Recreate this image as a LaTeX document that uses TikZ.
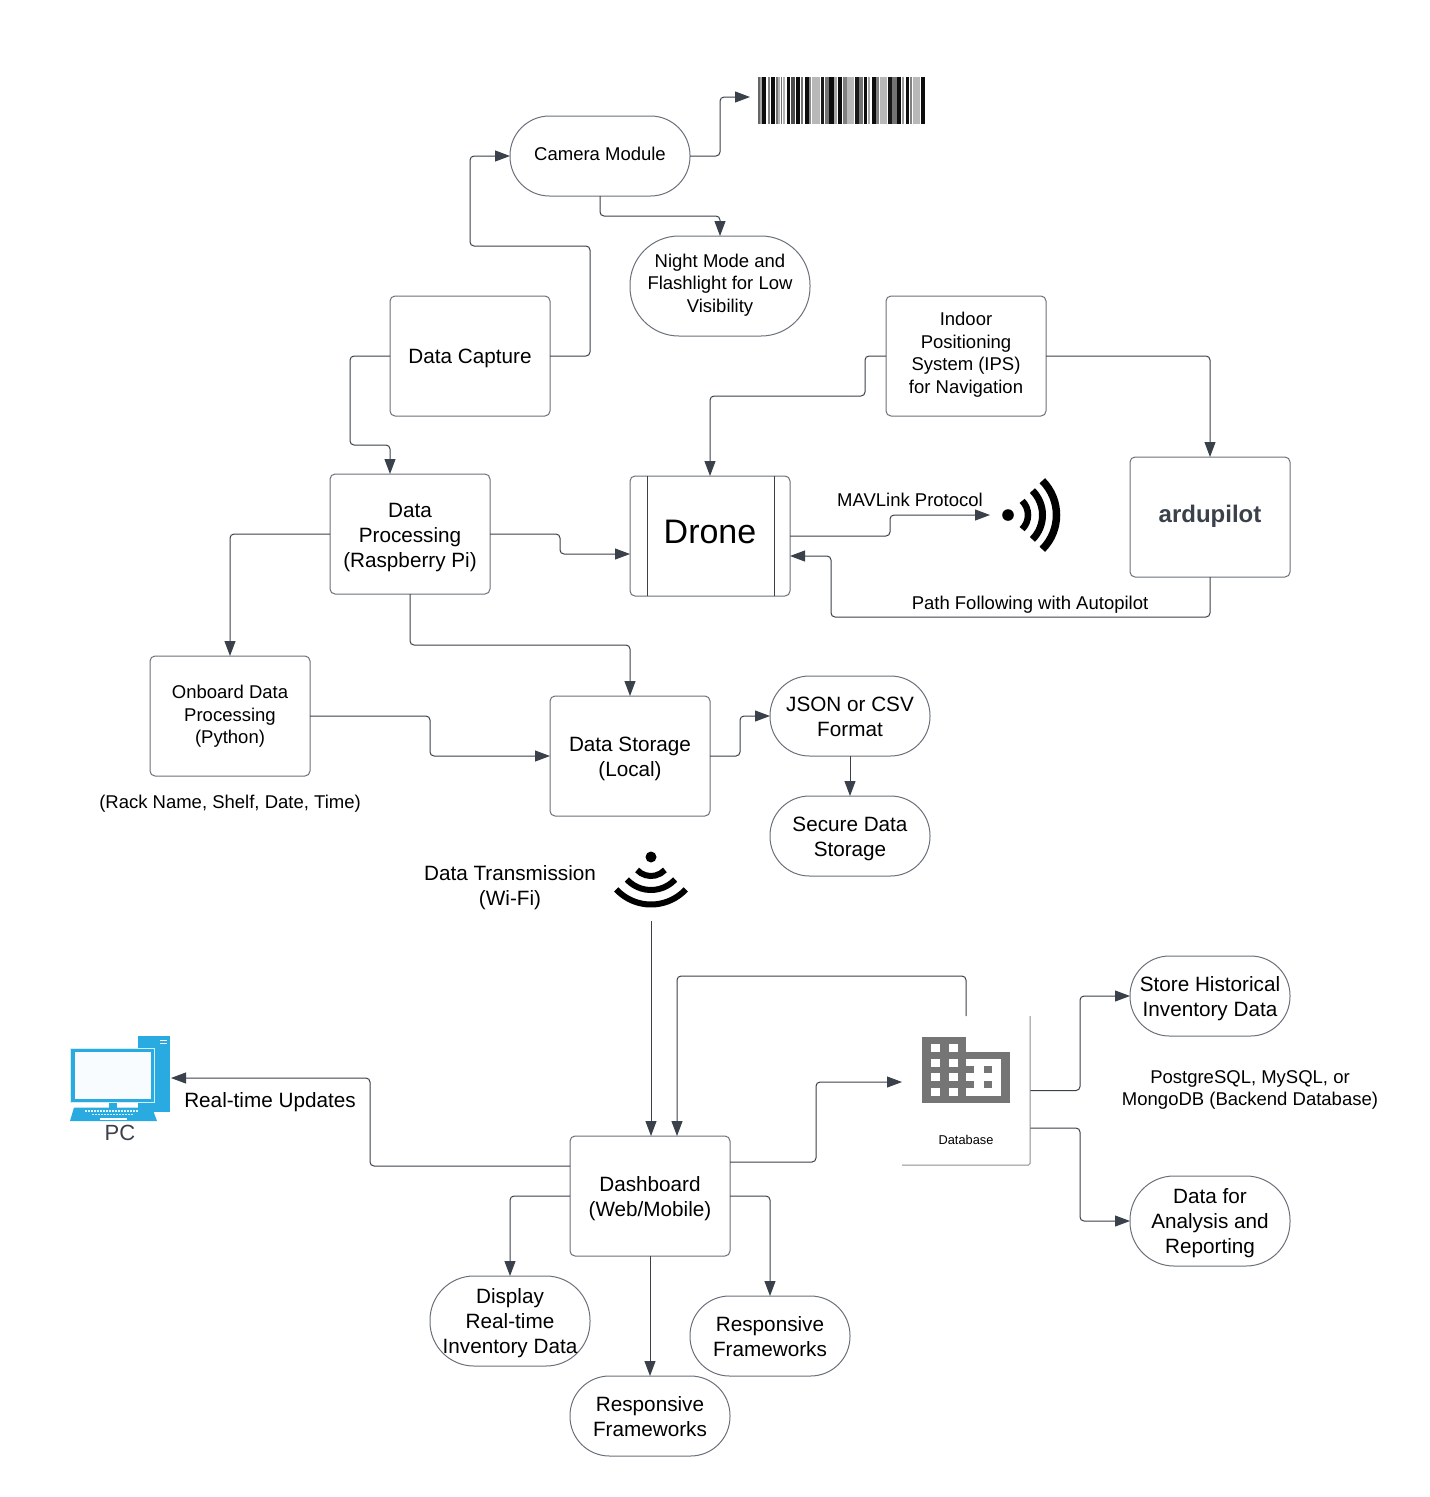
\documentclass[tikz,border=0pt]{standalone}
\usepackage{fontspec}
\setmainfont{Liberation Sans}
\usetikzlibrary{arrows.meta}
\definecolor{boxc}{HTML}{6A707A}
\definecolor{linec}{HTML}{3A414A}
\definecolor{pcblue}{HTML}{29ABE2}
\definecolor{dbgray}{HTML}{757575}
\newcommand{\fsA}{\fontsize{18.5}{22.5}\selectfont}
\newcommand{\fsB}{\fontsize{20.7}{25}\selectfont}
\newsavebox{\shiftbox}
\newcommand{\dn}[2]{\sbox{\shiftbox}{\begin{tabular}{@{}c@{}}#2\end{tabular}}\raisebox{0pt}[\dimexpr\ht\shiftbox+#1pt+#1pt\relax][\dp\shiftbox]{\usebox{\shiftbox}}}
\newcommand{\up}[2]{\sbox{\shiftbox}{\begin{tabular}{@{}c@{}}#2\end{tabular}}\raisebox{0pt}[\ht\shiftbox][\dimexpr\dp\shiftbox+#1pt+#1pt\relax]{\usebox{\shiftbox}}}
\tikzset{
  anynode/.style={inner sep=0pt,outer sep=0pt,align=center,text=black},
  boxA/.style={anynode,draw=boxc,line width=1pt,rounded corners=5pt,minimum width=160pt,minimum height=120pt,font=\fsB},
  boxB/.style={boxA,font=\fsA},
  pill/.style={anynode,draw=boxc,line width=1pt,minimum width=160pt,minimum height=80pt,rounded corners=39.5pt,font=\fsB},
  lab/.style={anynode,font=\fsA},
  labB/.style={anynode,font=\fsB},
  conn/.style={draw=linec,line width=1pt,rounded corners=4pt,-{Triangle[length=15pt,width=11pt,fill=linec]}},
}
\begin{document}
\begin{tikzpicture}[x=1pt,y=-1pt]
\useasboundingbox (0,0) rectangle (1430,1497);
% nodes
\node[pill,font=\fsA,minimum width=180pt] (cam) at (600,156) {\up{0.5}{Camera Module}};
\node[pill,font=\fsA,minimum width=180pt,minimum height=100pt,rounded corners=49pt] (night) at (720,286) {\up{1}{Night Mode and\\Flashlight for Low\\Visibility}};
\node[boxA] (capture) at (470,356) {\dn{2}{Data Capture}};
\node[boxB] (ips) at (966,356) {\up{1}{Indoor\\Positioning\\System (IPS)\\for Navigation}};
\node[boxA] (proc) at (410,534) {\dn{3.5}{Data\\Processing\\(Raspberry Pi)}};
\node[boxA,font=\fontsize{34}{40}\selectfont] (drone) at (710,536) {\up{1}{Drone}};
\node[boxA,font=\fontsize{24}{30}\selectfont\bfseries,text=linec] (ardu) at (1210,517) {\up{1}{ardupilot}};
\node[boxB] (onboard) at (230,716) {\dn{0.5}{Onboard Data\\Processing\\(Python)}};
\node[boxA] (storage) at (630,756) {\dn{2.5}{Data Storage\\(Local)}};
\node[pill] (json) at (850,716) {\dn{3}{JSON or CSV\\Format}};
\node[pill] (secure) at (850,836) {\dn{2.5}{Secure Data\\Storage}};
\node[boxA] (dash) at (650,1196) {\dn{2.5}{Dashboard\\(Web/Mobile)}};
\node[pill] (hist) at (1210,996) {\dn{2.5}{Store Historical\\Inventory Data}};
\node[pill,minimum height=90pt,rounded corners=44pt] (analysis) at (1210,1221) {\dn{2}{Data for\\Analysis and\\Reporting}};
\node[pill,minimum height=90pt,rounded corners=44pt] (disp) at (510,1321) {\dn{2}{Display\\Real-time\\Inventory Data}};
\node[pill] (respA) at (770,1336) {\dn{3}{Responsive\\Frameworks}};
\node[pill] (respB) at (650,1416) {\dn{3}{Responsive\\Frameworks}};
% invisible icon frames
\node[anynode,minimum width=175pt,minimum height=47pt] (barcode) at (837.5,100.5) {};
\node[anynode,minimum width=70pt,minimum height=80pt] (signal) at (1025,515) {};
\node[anynode,minimum width=72pt,minimum height=71pt] (wifi) at (651,885.5) {};
\node[anynode,minimum width=101pt,minimum height=84pt] (pc) at (120.5,1078) {};
\node[anynode,minimum width=128pt,minimum height=149pt] (db) at (966,1090.5) {};
% labels
\node[lab] (mav) at (910,500) {MAVLink Protocol};
\node[lab] (path) at (1030,605) {Path Following with Autopilot};
\node[lab] (rack) at (230,804) {(Rack Name, Shelf, Date, Time)};
\node[labB] (trans) at (510,888) {Data Transmission\\(Wi-Fi)};
\node[labB] (rt) at (270,1102) {Real-time Updates};
\node[lab] (pg) at (1250,1090) {PostgreSQL, MySQL, or\\MongoDB (Backend Database)};
\node[anynode,font=\fontsize{22}{26}\selectfont,text=linec] (pclab) at (120,1133) {PC};
\node[anynode,font=\fontsize{12.8}{15}\selectfont] (dblab) at (966,1140) {Database};
% named connector ends
\coordinate (procN) at (390,474);
\coordinate (droneW) at (630,554);
\coordinate (droneE) at (790,556);
\coordinate (dashNa) at (651,1136);
\coordinate (dashNb) at (677,1136);
\coordinate (dashEa) at (730,1162);
\coordinate (dashWa) at (570,1166);
\coordinate (dbW) at (902,1082);
\coordinate (dbEb) at (1030,1128);
\coordinate (dbN) at (966,1016);
\coordinate (pcE) at (171,1078);
\coordinate (barW) at (750,97);
% connectors
\draw[conn] (capture.east) -- (590,356) -- (590,246) -- (470,246) -- (470,156) -- (cam.west);
\draw[conn] (capture.west) -- (350,356) -- (350,445) -- (390,445) -- (procN);
\draw[conn] (cam.east) -- (720,156) -- (720,97) -- (barW);
\draw[conn] (cam.south) -- (600,216) -- (720,216) -- (night.north);
\draw[conn] (ips.west) -- (865,356) -- (865,396) -- (710,396) -- (drone.north);
\draw[conn] (ips.east) -- (1210,356) -- (ardu.north);
\draw[conn] (proc.east) -- (560,534) -- (560,554) -- (droneW);
\draw[conn] (proc.west) -- (230,534) -- (onboard.north);
\draw[conn] (proc.south) -- (410,645) -- (630,645) -- (storage.north);
\draw[conn] (drone.east) -- (890,536) -- (890,515) -- (signal.west);
\draw[conn] (ardu.south) -- (1210,617) -- (831,617) -- (831,556) -- (droneE);
\draw[conn] (onboard.east) -- (430,716) -- (430,756) -- (storage.west);
\draw[conn] (storage.east) -- (740,756) -- (740,716) -- (json.west);
\draw[conn] (json.south) -- (secure.north);
\draw[conn] (wifi.south) -- (dashNa);
\draw[conn] (dbN) -- (966,976) -- (677,976) -- (dashNb);
\draw[conn] (dashEa) -- (816,1162) -- (816,1082) -- (dbW);
\draw[conn] (db.east) -- (1080,1090.5) -- (1080,996) -- (hist.west);
\draw[conn] (dbEb) -- (1080,1128) -- (1080,1221) -- (analysis.west);
\draw[conn] (dashWa) -- (370,1166) -- (370,1078) -- (pcE);
\draw[conn] (dash.west) -- (510,1196) -- (disp.north);
\draw[conn] (dash.east) -- (770,1196) -- (respA.north);
\draw[conn] (dash.south) -- (respB.north);
% drone side bars
\draw[linec,line width=1pt] ([xshift=17pt]drone.north west) -- ([xshift=17pt]drone.south west);
\draw[linec,line width=1pt] ([xshift=-16pt]drone.north east) -- ([xshift=-16pt]drone.south east);
% barcode (bar limits in crop units: 3 units = 1 px)
\foreach \a/\b/\g in {53/60/60,60/67/35,67/79/95,85/90/50,94/104/95,108/113/55,115/121/30,122/127/55,128/136/30,140/151/95,154/166/70,167/179/95,182/188/55,194/206/95,208/214/45,216/241/28,242/253/90,254/266/55,268/281/95,283/291/35,295/307/95,309/320/50,320/342/28,344/356/90,356/369/55,371/381/95,384/391/35,396/407/95,409/417/50,419/442/28,444/456/90,457/470/55,472/483/95,486/492/40,497/507/95,509/516/50,519/541/28,544/554/95}{
  \fill[black!\g!white] ({740+\a/3},77) rectangle ({740+\b/3},124);
}
% signal icon
\coordinate (sc) at (1008,515);
\fill[black] (sc) circle (5.8pt);
\foreach \r/\w in {20/6.5,34.5/7,48.5/7.5}{
  \draw[line width=\w pt,black] (sc) ++(-45:\r pt) arc (-45:45:\r pt);
}
% wifi icon
\coordinate (wc) at (651,857);
\fill[black] (wc) circle (5.5pt);
\foreach \r in {19,33,47.5}{
  \draw[line width=6pt,black] (wc) ++(-137:\r pt) arc (-137:-43:\r pt);
}
% pc icon
\fill[pcblue] (138,1036) rectangle (170,1112);
\draw[white,line width=.9pt] (160,1040) -- (167,1040) (160,1043.5) -- (167,1043.5);
\fill[pcblue,draw=white!80!pcblue,line width=.8pt] (70.5,1048.5) rectangle (154.5,1102.5);
\fill[white!97!pcblue] (74.5,1052) rectangle (150.5,1099);
\fill[pcblue] (108.5,1103) rectangle (116.5,1107.5);
\fill[pcblue] (70,1121) -- (74,1107.5) -- (152,1107.5) -- (157,1121) -- cycle;
\foreach \xx in {85,88,...,137}{\fill[white!85!pcblue] (\xx,1110) rectangle ++(2,1.6);}
\foreach \xx in {92,95,...,131}{\fill[white!85!pcblue] (\xx,1113.5) rectangle ++(2,1.6);}
\fill[white] (100,1117.5) rectangle (127,1120);
% database
\draw[black!45,line width=1pt,rounded corners=1.5pt] (db.north east) -- (db.south east) -- (db.south west);
\fill[dbgray] (922,1037) rectangle (966,1103);
\fill[dbgray] (966,1052) rectangle (1010,1103);
\foreach \xx in {931,949}{\foreach \yy in {1044,1059,1073,1088}{\fill[white] (\xx,\yy) rectangle ++(9,8);}}
\fill[white] (966,1059) rectangle (1001,1096);
\foreach \xx in {966,984}{\foreach \yy in {1066,1081}{\fill[dbgray] (\xx,\yy) rectangle ++(8,7);}}
\end{tikzpicture}
\end{document}
